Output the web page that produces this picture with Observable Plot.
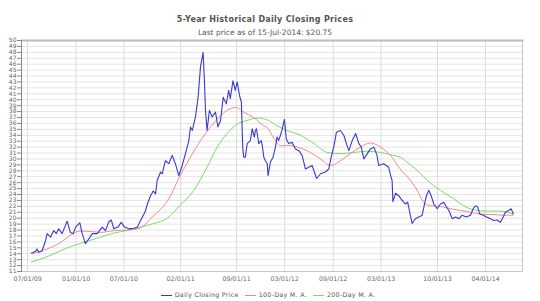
<!DOCTYPE html>
<html><head><meta charset="utf-8">
<script src="https://cdn.jsdelivr.net/npm/d3@7"></script>
<script src="https://cdn.jsdelivr.net/npm/@observablehq/plot@0.6"></script>
<style>
body{margin:0;background:#fff;font-family:"DejaVu Sans",Verdana,sans-serif;}
#wrap{position:relative;width:540px;height:301px;overflow:hidden;background:#fff}
#head{position:relative;width:540px;height:36px}
#title{position:absolute;left:0;width:530px;top:15px;text-align:center;font-weight:bold;font-size:8px;line-height:10px;color:#555;letter-spacing:0.3px}
#sub{position:absolute;left:0;width:530px;top:28px;text-align:center;font-size:7.5px;line-height:10px;color:#555}
#chart{height:252px}
#legend{height:13px;line-height:13px;text-align:center;font-size:6.3px;color:#555;letter-spacing:0.3px;padding-right:10px}
#legend .sw{display:inline-block;width:11px;height:1px;vertical-align:middle;margin:0 3px 0 6px}
</style></head>
<body><div id="wrap">
<div id="head"><div id="title"></div><div id="sub"></div></div>
<div id="chart"></div>
<div id="legend"></div>
</div>
<script>
const titleText = "5-Year Historical Daily Closing Prices";
const subtitleText = "Last price as of 15-Jul-2014: $20.75";
const seriesNames = ["Daily Closing Price", "100-Day M. A.", "200-Day M. A."];
const seriesColors = ["#3a3ad0", "#f08a8a", "#77dd66"];

const xTicks = ["2009-07-01","2010-01-01","2010-07-01","2011-02-01","2011-09-01","2012-03-01","2012-09-01","2013-03-01","2013-10-01","2014-04-01"];
const yTicks = d3.range(11, 51);

const priceDates = ["2009-07-15","2009-07-31","2009-08-06","2009-08-12","2009-08-25","2009-09-07","2009-09-13","2009-09-26","2009-10-08","2009-10-18","2009-10-27","2009-11-09","2009-11-28","2009-12-10","2009-12-21","2009-12-30",
"2010-01-15","2010-01-24","2010-02-05","2010-02-18","2010-03-03","2010-03-22","2010-04-10","2010-04-22","2010-05-05","2010-05-14","2010-05-24","2010-06-08","2010-06-21","2010-07-03","2010-07-20","2010-08-08","2010-08-21","2010-09-02","2010-09-15","2010-09-21","2010-09-28","2010-10-10","2010-10-20","2010-10-29","2010-11-04","2010-11-17","2010-11-23","2010-12-05","2010-12-18","2010-12-31",
"2011-01-12","2011-01-25","2011-02-07","2011-02-19","2011-03-04","2011-03-10","2011-03-17","2011-03-29","2011-04-08","2011-04-17","2011-04-27","2011-05-02","2011-05-06","2011-05-12","2011-05-21","2011-05-31","2011-06-13","2011-06-22","2011-07-02","2011-07-12","2011-07-24","2011-08-02","2011-08-08","2011-08-18","2011-08-27","2011-09-03","2011-09-13","2011-09-19","2011-09-24","2011-09-28","2011-10-04","2011-10-11","2011-10-23","2011-10-30","2011-11-07","2011-11-11","2011-11-15","2011-11-24","2011-12-03","2011-12-07","2011-12-13","2011-12-19","2011-12-26","2011-12-29",
"2012-01-07","2012-01-17","2012-01-26","2012-02-01","2012-02-07","2012-02-14","2012-02-20","2012-02-29","2012-03-07","2012-03-16","2012-03-29","2012-04-11","2012-04-24","2012-05-06","2012-05-19","2012-05-31","2012-06-13","2012-06-30","2012-07-15","2012-08-02","2012-08-15","2012-08-24","2012-09-03","2012-09-13","2012-09-28","2012-10-11","2012-10-21","2012-10-30","2012-11-12","2012-11-25","2012-12-07","2012-12-16","2012-12-26",
"2013-01-08","2013-01-20","2013-02-02","2013-02-14","2013-02-20","2013-03-11","2013-03-30","2013-04-08","2013-04-12","2013-04-15","2013-04-25","2013-05-07","2013-05-20","2013-06-01","2013-06-10","2013-06-20","2013-06-27","2013-07-09","2013-07-22","2013-08-04","2013-08-13","2013-08-20","2013-08-29","2013-09-07","2013-09-17","2013-09-30","2013-10-12","2013-10-25","2013-11-04","2013-11-13","2013-11-26","2013-12-08","2013-12-21",
"2014-01-02","2014-01-18","2014-02-03","2014-02-13","2014-02-22","2014-03-02","2014-03-10","2014-03-23","2014-04-05","2014-04-20","2014-05-02","2014-05-15","2014-05-27","2014-06-07","2014-06-15","2014-06-28","2014-07-07","2014-07-15"];
const priceValues = [14.1,14.4,14.8,14.25,14.5,16.2,17.4,16.8,17.9,17.4,18.2,17.4,19.5,17.6,17.4,18.5,
19.2,17.4,15.7,16.5,17.4,17.4,18.5,17.9,19.4,19.7,18.2,18.5,19.3,18.5,18.2,18.3,18.5,19.6,20.7,21.3,22.4,23.8,24.6,24.1,26.4,27.8,27.5,29.7,29.2,30.6,
29.2,27.2,28.9,30.9,33.1,35.4,34.8,37.1,40.4,45.5,48.0,43.2,38.2,34.8,38.2,37.1,37.9,35.4,36.5,40.4,39.3,41.6,40.2,43.2,41.6,43.0,40.5,39.6,32.0,30.3,30.3,32.6,33.1,35.1,33.7,34.8,35.1,32.6,33.1,32.3,30.3,29.7,29.2,27.2,
29.5,30.3,32.0,33.7,33.1,34.0,34.9,36.7,33.4,32.6,32.8,31.7,31.4,30.6,28.3,28.6,28.9,26.7,27.5,27.8,28.3,30.3,32.0,34.5,34.8,34.0,32.6,31.4,33.1,34.3,32.6,32.0,30.0,
30.9,31.7,32.0,30.6,28.9,29.2,28.6,26.9,26.4,22.8,24.2,23.8,23.0,22.4,22.7,20.5,19.1,19.9,20.2,20.5,22.4,23.8,24.7,23.8,22.4,21.6,22.4,22.7,21.9,21.3,19.9,20.2,19.9,
20.5,20.2,20.5,21.6,22.1,21.9,20.7,20.5,20.2,19.9,19.6,19.7,19.3,20.2,21.0,21.3,21.6,20.75];

const ma100Dates = ["2009-07-20","2009-09-13","2009-11-03","2009-12-10","2010-01-11","2010-02-12","2010-04-03","2010-05-24","2010-07-13","2010-08-21","2010-09-28","2010-10-16","2010-11-17","2010-12-25","2011-01-17","2011-03-10","2011-04-17","2011-05-25","2011-07-02","2011-08-08","2011-08-31","2011-09-15","2011-09-28","2011-11-05","2011-12-13","2011-12-26","2012-01-20","2012-02-14","2012-03-10","2012-04-18","2012-05-25","2012-07-15","2012-08-22","2012-09-28","2012-11-05","2012-12-13","2013-01-20","2013-02-27","2013-04-06","2013-05-13","2013-06-20","2013-07-16","2013-08-10","2013-09-04","2013-10-12","2013-11-19","2013-12-27","2014-02-03","2014-03-13","2014-05-02","2014-06-09","2014-07-15"];
const ma100Values = [14.0,14.8,15.9,17.1,17.8,17.8,17.6,17.9,18.0,18.2,19.3,20.2,21.5,23.8,26.0,30.3,33.1,35.4,37.3,38.5,38.7,38.3,37.9,37.0,35.6,35.3,33.5,32.2,32.3,32.0,31.4,30.0,28.9,29.7,30.9,32.0,32.7,32.0,30.6,28.3,26.4,24.7,22.7,22.1,22.0,21.6,21.3,21.0,20.7,20.6,20.5,20.5];

const ma200Dates = ["2009-07-15","2009-09-13","2009-11-03","2009-12-23","2010-02-12","2010-04-03","2010-05-24","2010-07-13","2010-09-02","2010-10-22","2010-12-12","2011-01-31","2011-03-23","2011-05-12","2011-06-19","2011-07-27","2011-09-03","2011-10-11","2011-11-18","2011-12-26","2012-02-01","2012-03-10","2012-04-30","2012-06-20","2012-08-09","2012-09-28","2012-11-18","2013-01-08","2013-02-27","2013-04-18","2013-05-13","2013-06-20","2013-07-28","2013-08-23","2013-10-12","2013-12-01","2014-01-08","2014-02-15","2014-04-05","2014-05-27","2014-06-22","2014-07-15"];
const ma200Values = [12.6,13.5,14.5,15.4,16.1,16.8,17.5,17.9,18.5,19.1,20.0,22.2,24.7,28.6,32.0,34.3,35.9,36.5,36.9,36.6,35.6,34.8,34.0,32.6,31.1,30.9,31.1,31.3,31.1,30.6,30.3,29.0,27.6,26.4,24.7,23.3,22.1,21.4,21.2,21.2,21.0,20.7];

const parse = d3.utcParse("%Y-%m-%d");
const price = priceDates.map((d, i) => ({date: parse(d), value: priceValues[i]}));
const ma100 = ma100Dates.map((d, i) => ({date: parse(d), value: ma100Values[i]}));
const ma200 = ma200Dates.map((d, i) => ({date: parse(d), value: ma200Values[i]}));
const xTickDates = xTicks.map(parse);

document.getElementById("title").textContent = titleText;
document.getElementById("sub").textContent = subtitleText;
const lg = document.getElementById("legend");
seriesNames.forEach((n, i) => {
  const s = document.createElement("span"); s.className = "sw"; s.style.background = seriesColors[i];
  lg.appendChild(s); lg.appendChild(document.createTextNode(n));
});

const chart = Plot.plot({
  width: 540, height: 252,
  marginTop: 4, marginBottom: 17, marginLeft: 21, marginRight: 18,
  style: {fontFamily: "DejaVu Sans, sans-serif", fontSize: "6px", color: "#555", background: "#fff"},
  x: {type: "utc", domain: [parse("2009-06-08"), parse("2014-08-19")], label: null},
  y: {domain: [11, 50], label: null},
  marks: [
    Plot.gridY(yTicks, {stroke: "#e4e4e4", strokeOpacity: 1}),
    Plot.gridX(xTickDates, {stroke: "#dcdcdc", strokeOpacity: 1}),
    Plot.frame({stroke: "#c8c8c8"}),
    Plot.frame({anchor: "top", stroke: "#bbb", strokeWidth: 2}),
    Plot.frame({anchor: "left", stroke: "#888"}),
    Plot.axisY(yTicks, {tickSize: 4, tickPadding: 1, fontSize: 6, stroke: "#888", fill: "#666", label: null}),
    Plot.axisX(xTickDates, {tickSize: 0, tickPadding: 5, fontSize: 6.3, fill: "#666", tickFormat: d3.utcFormat("%m/%d/%y"), label: null, style: "letter-spacing:0.4px"}),
    Plot.line(ma200, {x: "date", y: "value", stroke: seriesColors[2], strokeWidth: 1, curve: "monotone-x"}),
    Plot.line(ma100, {x: "date", y: "value", stroke: seriesColors[1], strokeWidth: 1, curve: "monotone-x"}),
    Plot.line(price, {x: "date", y: "value", stroke: seriesColors[0], strokeWidth: 1.1})
  ]
});
document.getElementById("chart").appendChild(chart);
</script>
</body></html>
